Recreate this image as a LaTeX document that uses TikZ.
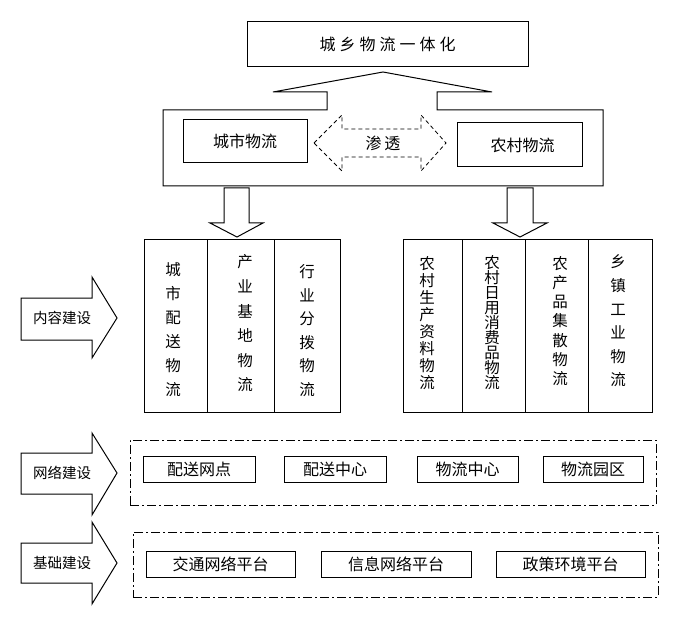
\documentclass[tikz,border=0pt]{standalone}
\usepackage{fontspec}
\setmainfont{Noto Sans CJK SC}
\begin{document}
\begin{tikzpicture}[x=1pt,y=-1pt, line width=1pt, line join=miter,
  box/.style={draw, inner sep=0pt, font=\fontsize{16}{18}\selectfont},
  colbox/.style={draw, inner sep=0pt, minimum height=172pt},
  vt/.style={align=center, inner sep=0pt},
  lab/.style={inner sep=0pt, font=\fontsize{14.5}{16}\selectfont},
  dashdot/.style={draw, inner sep=0pt, dash pattern=on 9pt off 3pt on 2pt off 3pt},
  dashedarrow/.style={dash pattern=on 4pt off 3pt, line width=0.8pt}]
\useasboundingbox (0,0) rectangle (685,620);

% title
\node[box, minimum width=281pt, minimum height=45pt] (title) at (387.5,44.5)
  {城\hspace{4pt}乡\hspace{4pt}物\hspace{4pt}流\hspace{4pt}一\hspace{4pt}体\hspace{4pt}化};

% container with upward arrow
\draw (163,110) -- (327,110) -- (327,92) -- (273,92) -- (383,72) -- (492,92)
  -- (437,92) -- (437,110) -- (603,110) -- (603,186) -- (163,186) -- cycle;

\node[box, minimum width=124pt, minimum height=43pt] (city) at (245,141.5) {城市物流};
\node[box, minimum width=125pt, minimum height=44pt] (rural) at (519.5,145) {\hspace{6pt}农村物流};

% dashed double arrow
\draw[dashedarrow] (314,143) -- (342,115) -- (342,129) -- (421,129) -- (421,115)
  -- (446,143) -- (421,171) -- (421,157) -- (342,157) -- (342,171) -- cycle;
\node[inner sep=0pt, font=\fontsize{16}{18}\selectfont] (shentou) at (383,143) {渗\hspace{3pt}透};

% down arrows
\draw (224,188) -- (249,188) -- (249,223) -- (263,223) -- (237,237) -- (210,223) -- (224,223) -- cycle;
\draw (507,188) -- (533,188) -- (533,223) -- (547,223) -- (520,237) -- (493,223) -- (507,223) -- cycle;

% columns
\node[colbox, minimum width=63pt] (c1) at (175.5,326) {};
\node[colbox, minimum width=67pt] (c2) at (240.5,326) {};
\node[colbox, minimum width=66pt] (c3) at (307,326) {};
\node[colbox, minimum width=59pt] (c4) at (432.5,326) {};
\node[colbox, minimum width=63pt] (c5) at (493.5,326) {};
\node[colbox, minimum width=63pt] (c6) at (556.5,326) {};
\node[colbox, minimum width=64pt] (c7) at (620,326) {};

\node[vt, font=\fontsize{15.5}{24}\selectfont] (t1) at (173,330) {城\\市\\配\\送\\物\\流};
\node[vt, font=\fontsize{15.5}{24.6}\selectfont] (t2) at (245,323.5) {产\\业\\基\\地\\物\\流};
\node[vt, font=\fontsize{15.5}{23.5}\selectfont] (t3) at (307,330.5) {行\\业\\分\\拨\\物\\流};
\node[vt, font=\fontsize{15.5}{17.1}\selectfont] (t4) at (427,323) {农\\村\\生\\产\\资\\料\\物\\流};
\node[vt, font=\fontsize{15.5}{15}\selectfont] (t5) at (492,323) {农\\村\\日\\用\\消\\费\\品\\物\\流};
\node[vt, font=\fontsize{15.5}{19.3}\selectfont] (t6) at (560,321) {农\\产\\品\\集\\散\\物\\流};
\node[vt, font=\fontsize{15.5}{23.6}\selectfont] (t7) at (618,321) {乡\\镇\\工\\业\\物\\流};

% left arrows
\draw (21,298) -- (92,298) -- (92,277) -- (117,318) -- (92,358) -- (92,340) -- (21,340) -- cycle;
\node[lab] (a1) at (62,318) {内容建设};
\draw (21,453) -- (92,453) -- (92,433) -- (117,473) -- (92,515) -- (92,494) -- (21,494) -- cycle;
\node[lab] (a2) at (62,473) {网络建设};
\draw (21,543) -- (92,543) -- (92,522) -- (117,563) -- (92,604) -- (92,583) -- (21,583) -- cycle;
\node[lab] (a3) at (62,563) {基础建设};

% dash-dot frames
\node[dashdot, minimum width=526pt, minimum height=65pt] (net) at (393,472.5) {};
\node[dashdot, minimum width=525pt, minimum height=65pt] (base) at (395.5,564.5) {};

% row 1
\node[box, minimum width=112pt, minimum height=26pt] (n1) at (199,469) {配送网点};
\node[box, minimum width=102pt, minimum height=26pt] (n2) at (335,469) {配送中心};
\node[box, minimum width=101pt, minimum height=26pt] (n3) at (467.5,469) {物流中心};
\node[box, minimum width=100pt, minimum height=26pt] (n4) at (593,469) {物流园区};

% row 2
\node[box, minimum width=149pt, minimum height=26pt] (b1) at (220.5,564) {交通网络平台};
\node[box, minimum width=150pt, minimum height=26pt] (b2) at (396,564) {信息网络平台};
\node[box, minimum width=149pt, minimum height=26pt] (b3) at (570.5,564) {政策环境平台};
\end{tikzpicture}
\end{document}
